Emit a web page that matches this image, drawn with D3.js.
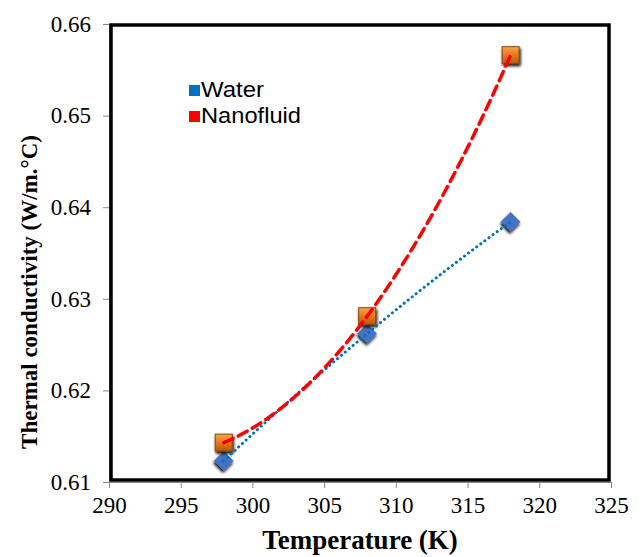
<!DOCTYPE html>
<html><head><meta charset="utf-8">
<script src="https://cdn.jsdelivr.net/npm/d3@7"></script>
<style>body{margin:0;background:#fff}svg{display:block}</style>
</head><body>
<svg id="c" width="641" height="557"></svg>
<script>
const temps = [298, 308, 318];
const water = [0.6123, 0.6262, 0.6384];
const nano = [0.6143, 0.6281, 0.6566];
const xTicks = [290, 295, 300, 305, 310, 315, 320, 325];
const yTicks = [0.61, 0.62, 0.63, 0.64, 0.65, 0.66];
const seriesNames = ["Water", "Nanofluid"];

const svg = d3.select("#c");
const x = d3.scaleLinear().domain([290, 325]).range([109, 611]);
const y = d3.scaleLinear().domain([0.61, 0.66]).range([482, 24]);

const defs = svg.append("defs");
const g = defs.append("linearGradient").attr("id","og").attr("x1",0).attr("y1",0).attr("x2",0).attr("y2",1);
g.append("stop").attr("offset","0%").attr("stop-color","#f8a44a");
g.append("stop").attr("offset","50%").attr("stop-color","#e8781e");
g.append("stop").attr("offset","100%").attr("stop-color","#b8540e");
const f = defs.append("filter").attr("id","sh").attr("x","-50%").attr("y","-50%").attr("width","200%").attr("height","200%");
f.append("feGaussianBlur").attr("in","SourceAlpha").attr("stdDeviation",1.5);
f.append("feOffset").attr("dx",1).attr("dy",2).attr("result","b");
const fm = f.append("feMerge");
fm.append("feMergeNode").attr("in","b");
fm.append("feMergeNode").attr("in","SourceGraphic");

const serif = "'Liberation Serif', 'Times New Roman', serif";

// axes
const ax = svg.append("g").attr("transform","translate(0,482)")
  .call(d3.axisBottom(x).tickValues(xTicks).tickSize(6).tickPadding(9).tickFormat(d3.format("d")));
const ay = svg.append("g").attr("transform","translate(109,0)")
  .call(d3.axisLeft(y).tickValues(yTicks).tickSize(6).tickPadding(12).tickFormat(d3.format(".2f")));
[ax, ay].forEach(a => {
  a.selectAll("path").attr("stroke","#888").attr("stroke-width",1);
  a.selectAll("line").attr("stroke","#888");
  a.selectAll("text").attr("font-family",serif).attr("font-size",23).attr("fill","#000");
});

// frame
svg.append("rect").attr("x",111).attr("y",25).attr("width",498).attr("height",455)
  .attr("fill","none").attr("stroke","#000").attr("stroke-width",3.5);

// quadratic trendline through points
function quadFit(xs, ys) {
  const [x0,x1,x2] = xs, [y0,y1,y2] = ys;
  return t => y0*((t-x1)*(t-x2))/((x0-x1)*(x0-x2)) + y1*((t-x0)*(t-x2))/((x1-x0)*(x1-x2)) + y2*((t-x0)*(t-x1))/((x2-x0)*(x2-x1));
}
function trend(vals, color, dash, w) {
  const fn = quadFit(temps, vals);
  const pts = d3.range(temps[0], temps[2] + 0.001, 0.25).map(t => [x(t), y(fn(t))]);
  svg.append("path").attr("d", d3.line()(pts))
    .attr("fill","none").attr("stroke",color).attr("stroke-width",w)
    .attr("stroke-dasharray",dash).attr("stroke-linecap","round");
}

// water markers
svg.selectAll(".w").data(temps).enter().append("rect")
  .attr("x", -7).attr("y", -7).attr("width",14).attr("height",14)
  .attr("transform",(d,i)=>`translate(${x(d)},${y(water[i])}) rotate(45)`)
  .attr("fill","#4472c4").attr("filter","url(#sh)");

// nanofluid markers
svg.selectAll(".n").data(temps).enter().append("rect")
  .attr("x",(d)=>x(d)-8.5).attr("y",(d,i)=>y(nano[i])-8.5).attr("width",17).attr("height",17)
  .attr("fill","url(#og)").attr("stroke","#8a4a14").attr("stroke-width",1).attr("filter","url(#sh)");

trend(water, "#0070c0", "0.1 5", 3);
trend(nano, "#ff0000", "10 6", 3.5);

// legend
const leg = [{n: seriesNames[0], c:"#0070c0", y:97},{n: seriesNames[1], c:"#ff0000", y:123}];
leg.forEach(l => {
  svg.append("rect").attr("x",189).attr("y",l.y-12).attr("width",11).attr("height",11).attr("fill",l.c);
  svg.append("text").attr("x",201).attr("y",l.y).text(l.n)
    .attr("font-family","'Liberation Sans', Arial, sans-serif").attr("font-size",22.5)
    .attr("textLength", l.n === "Water" ? 63 : 100).attr("lengthAdjust","spacingAndGlyphs").attr("fill","#000");
});

// axis titles
svg.append("text").attr("x",360).attr("y",549).attr("text-anchor","middle")
  .attr("font-family",serif).attr("font-weight","bold").attr("font-size",27)
  .text("Temperature (K)");
svg.append("text").attr("transform","translate(37,292) rotate(-90)").attr("text-anchor","middle")
  .attr("font-family",serif).attr("font-weight","bold").attr("font-size",23)
  .text("Thermal conductivity (W/m.°C)");
</script>
</body></html>
